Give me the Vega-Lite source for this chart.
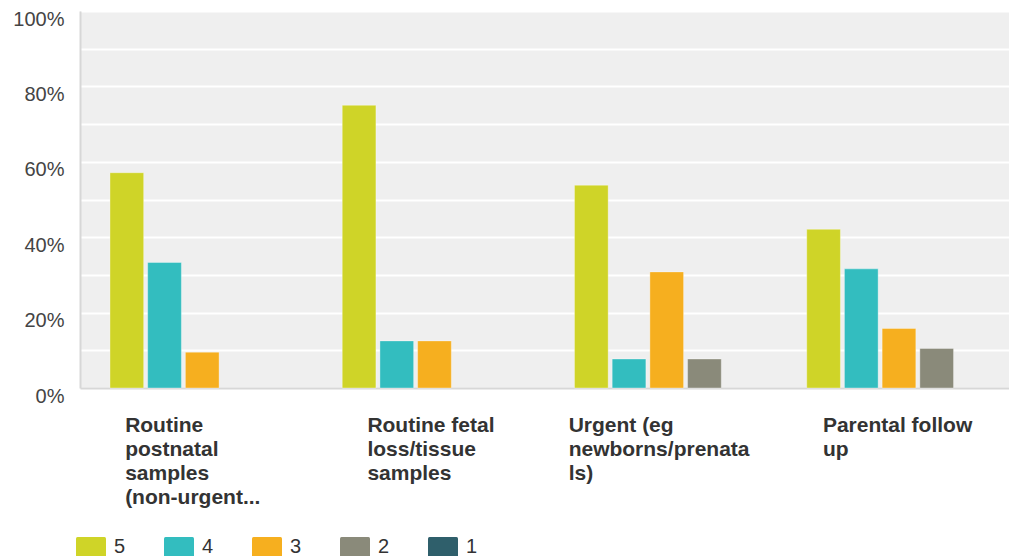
{
  "$schema": "https://vega.github.io/schema/vega-lite/v6.json",
  "width": 929,
  "height": 377,
  "autosize": {"type": "none"},
  "padding": {"left": 80, "top": 11, "right": 0, "bottom": 168},
  "background": "white",
  "view": {"fill": "#efefef", "stroke": null},
  "data": {
    "values": [
      {"question": "Routine postnatal samples (non-urgent...", "rating": "5", "pct": 57.1},
      {"question": "Routine postnatal samples (non-urgent...", "rating": "4", "pct": 33.3},
      {"question": "Routine postnatal samples (non-urgent...", "rating": "3", "pct": 9.5},
      {"question": "Routine fetal loss/tissue samples", "rating": "5", "pct": 75.0},
      {"question": "Routine fetal loss/tissue samples", "rating": "4", "pct": 12.5},
      {"question": "Routine fetal loss/tissue samples", "rating": "3", "pct": 12.5},
      {"question": "Urgent (eg newborns/prenatals)", "rating": "5", "pct": 53.8},
      {"question": "Urgent (eg newborns/prenatals)", "rating": "4", "pct": 7.7},
      {"question": "Urgent (eg newborns/prenatals)", "rating": "3", "pct": 30.8},
      {"question": "Urgent (eg newborns/prenatals)", "rating": "2", "pct": 7.7},
      {"question": "Parental follow up", "rating": "5", "pct": 42.1},
      {"question": "Parental follow up", "rating": "4", "pct": 31.6},
      {"question": "Parental follow up", "rating": "3", "pct": 15.8},
      {"question": "Parental follow up", "rating": "2", "pct": 10.5}
    ]
  },
  "mark": {"type": "bar", "stroke": "white", "strokeOpacity": 0.35, "strokeWidth": 1},
  "encoding": {
    "x": {
      "field": "question",
      "type": "nominal",
      "sort": null,
      "scale": {"paddingInner": 0, "paddingOuter": 0},
      "axis": {
        "title": null,
        "domainColor": "#d7d7d7",
        "domainWidth": 2,
        "ticks": false,
        "grid": false,
        "labelAngle": 0,
        "labelAlign": "left",
        "labelBaseline": "top",
        "labelFont": "Liberation Sans",
        "labelFontWeight": "bold",
        "labelFontSize": 21,
        "labelColor": "#333333",
        "labelLineHeight": 24,
        "labelPadding": 26,
        "labelLimit": 0,
        "labelOffset": {
          "condition": [
            {"test": "datum.value == 'Routine postnatal samples (non-urgent...'", "value": -71},
            {"test": "datum.value == 'Routine fetal loss/tissue samples'", "value": -61},
            {"test": "datum.value == 'Urgent (eg newborns/prenatals)'", "value": -92}
          ],
          "value": -70
        },
        "labelExpr": "datum.value == 'Routine postnatal samples (non-urgent...' ? ['Routine', 'postnatal', 'samples', '(non-urgent...'] : datum.value == 'Routine fetal loss/tissue samples' ? ['Routine fetal', 'loss/tissue', 'samples'] : datum.value == 'Urgent (eg newborns/prenatals)' ? ['Urgent (eg', 'newborns/prenata', 'ls)'] : ['Parental follow', 'up']"
      }
    },
    "xOffset": {
      "field": "rating",
      "type": "nominal",
      "scale": {"domain": ["5", "4", "3", "2", "1"], "paddingInner": 0.106, "paddingOuter": 0.633, "align": 0.628}
    },
    "y": {
      "field": "pct",
      "type": "quantitative",
      "scale": {"domain": [0, 100], "nice": false},
      "axis": {
        "title": null,
        "values": [0, 10, 20, 30, 40, 50, 60, 70, 80, 90, 100],
        "labelExpr": "datum.value % 20 == 0 ? datum.value + '%' : ''",
        "grid": true,
        "gridColor": "white",
        "gridWidth": 2,
        "ticks": false,
        "domainColor": "#d7d7d7",
        "domainWidth": 2,
        "labelFont": "Liberation Sans",
        "labelFontSize": 20,
        "labelColor": "#444444",
        "labelPadding": 16,
        "labelOffset": 8
      }
    },
    "color": {
      "field": "rating",
      "type": "nominal",
      "scale": {
        "domain": ["5", "4", "3", "2", "1"],
        "range": ["#cfd428", "#33bdbf", "#f6af1f", "#8a8a7a", "#2f5f6b"]
      },
      "legend": {
        "orient": "none",
        "direction": "horizontal",
        "legendX": 1,
        "legendY": 526,
        "title": null,
        "padding": 0,
        "symbolType": "M-1.35,-1 H1.35 Q1.5,-1 1.5,-0.85 V0.85 Q1.5,1 1.35,1 H-1.35 Q-1.5,1 -1.5,0.85 V-0.85 Q-1.5,-1 -1.35,-1 Z",
        "symbolSize": 400,
        "symbolStrokeWidth": 0,
        "symbolOpacity": 1,
        "labelFont": "Liberation Sans",
        "labelFontSize": 20,
        "labelColor": "#333333",
        "labelOffset": 13,
        "columnPadding": 38
      }
    }
  }
}
